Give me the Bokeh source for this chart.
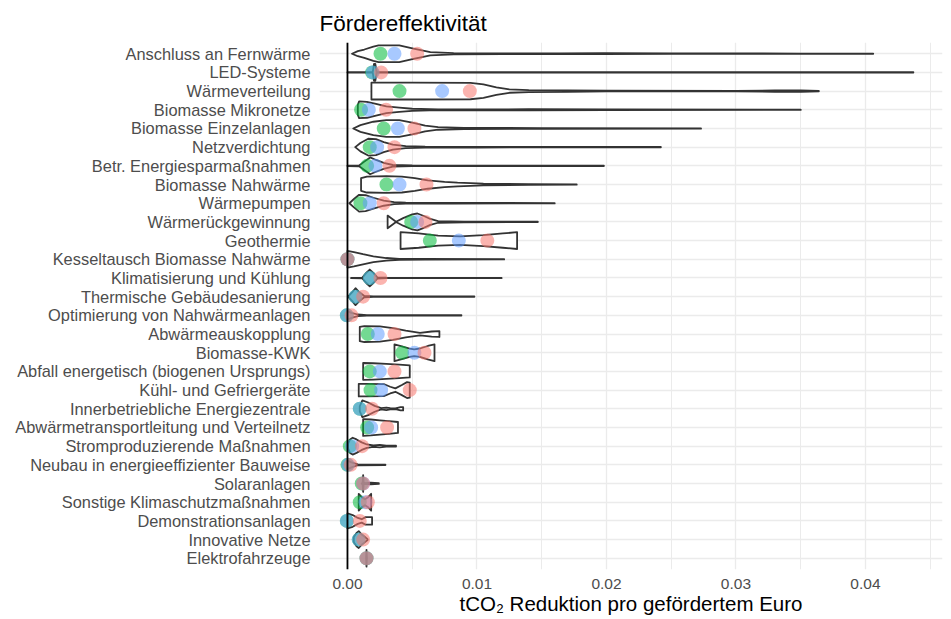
import numpy as np
from bokeh.plotting import figure
from bokeh.models import Range1d, FixedTicker, NumeralTickFormatter, Span
from bokeh.embed import file_html
from bokeh.resources import INLINE

# ---------------- data ----------------
categories = [
    "Anschluss an Fernwärme",
    "LED-Systeme",
    "Wärmeverteilung",
    "Biomasse Mikronetze",
    "Biomasse Einzelanlagen",
    "Netzverdichtung",
    "Betr. Energiesparmaßnahmen",
    "Biomasse Nahwärme",
    "Wärmepumpen",
    "Wärmerückgewinnung",
    "Geothermie",
    "Kesseltausch Biomasse Nahwärme",
    "Klimatisierung und Kühlung",
    "Thermische Gebäudesanierung",
    "Optimierung von Nahwärmeanlagen",
    "Abwärmeauskopplung",
    "Biomasse-KWK",
    "Abfall energetisch (biogenen Ursprungs)",
    "Kühl- und Gefriergeräte",
    "Innerbetriebliche Energiezentrale",
    "Abwärmetransportleitung und Verteilnetz",
    "Stromproduzierende Maßnahmen",
    "Neubau in energieeffizienter Bauweise",
    "Solaranlagen",
    "Sonstige Klimaschutzmaßnahmen",
    "Demonstrationsanlagen",
    "Innovative Netze",
    "Elektrofahrzeuge",
]

# point summaries (tCO2 per Euro, in units of 1e-3)
green_e3 = [2.55, 1.9, 4.02, 1.05, 2.8, 1.72, 1.52, 3.01, 1.0, 4.92, 6.36, 0.0, 1.72, 0.62,
            -0.05, 1.57, 4.22, 1.72, 1.78, 0.95, 1.52, 0.18, 0.0, 1.1, 0.95, -0.05, 0.87, 1.47]
blue_e3 = [3.63, 1.95, 7.31, 1.65, 3.89, 2.29, 2.16, 4.02, 1.72, 5.38, 8.6, 0.0, 1.72, 0.62,
           -0.05, 2.34, 5.17, 2.5, 2.6, 0.95, 1.83, 0.36, 0.05, 1.21, 1.39, -0.05, 0.87, 1.47]
red_e3 = [5.38, 2.6, 9.45, 2.98, 5.17, 3.63, 3.24, 6.1, 2.8, 6.02, 10.8, 0.0, 2.55, 1.21,
          0.31, 3.63, 5.95, 3.63, 4.81, 1.9, 3.06, 1.13, 0.25, 1.21, 1.57, 0.95, 1.21, 1.47]

# violin outlines: positions (1e-3) and relative density width (0..1)
violin_x_e3 = [
    [0.35, 0.8, 1.3, 2.0, 2.4, 4.0, 5.1, 6.4, 8.2, 12, 16.4, 19.8, 25, 30, 35, 40.6],
    [0.0, 1.95, 2.05, 2.15, 2.25, 43.7],
    [1.85, 2.2, 5.0, 9.5, 10.5, 11.5, 12.5, 14, 17, 20, 30, 33, 35, 36.4],
    [0.8, 0.9, 1.5, 2.2, 3.0, 4.0, 5.0, 7.0, 14, 20, 35],
    [0.45, 1.0, 2.0, 3.0, 4.0, 5.0, 6.0, 7.0, 9.0, 15, 27.3],
    [0.6, 1.0, 1.6, 2.2, 2.8, 3.5, 4.5, 6.0, 10, 24.2],
    [0.0, 0.9, 1.3, 1.75, 2.2, 2.8, 3.5, 5.0, 19.8],
    [1.05, 1.5, 3.0, 4.2, 5.2, 6.2, 7.5, 8.5, 10.5, 14, 17.7],
    [0.15, 0.5, 0.9, 1.4, 2.0, 2.8, 3.6, 4.5, 8.0, 16.0],
    [3.1, 3.75, 4.3, 5.0, 5.4, 5.9, 6.4, 7.0, 9.0, 14.7],
    [4.1, 5.5, 7.0, 8.7, 10.5, 12.0, 13.1],
    [0.0, 0.5, 1.2, 2.0, 3.0, 4.0, 6.0, 12.1],
    [0.28, 1.15, 1.45, 1.72, 2.0, 2.3, 3.0, 11.9],
    [0.1, 0.35, 0.62, 0.9, 1.3, 2.0, 9.8],
    [0.0, 0.3, 0.8, 1.5, 8.8],
    [0.95, 1.3, 2.5, 3.5, 4.5, 5.6, 6.5, 7.1],
    [3.63, 4.2, 4.8, 5.15, 5.6, 6.2, 6.72],
    [1.21, 2.0, 3.0, 4.0, 4.81],
    [0.87, 1.5, 2.8, 3.3, 3.7, 4.2, 4.6, 4.81],
    [0.95, 1.15, 1.6, 2.1, 2.6, 3.0, 3.3, 3.7, 4.1, 4.3],
    [1.21, 1.8, 2.5, 3.2, 3.9],
    [0.05, 0.2, 0.4, 0.7, 1.1, 1.5, 2.0, 2.5, 3.0, 3.75],
    [0.0, 0.3, 0.8, 2.93],
    [1.1, 1.17, 1.21, 1.25, 1.35, 1.8, 2.42],
    [0.87, 1.1, 1.35, 1.6, 1.83],
    [0.0, 0.4, 0.8, 1.1, 1.4, 1.9],
    [0.49, 0.7, 0.87, 1.1, 1.35, 1.55],
    [1.44, 1.47, 1.5],
]
violin_w = [
    [0.0, 0.3, 0.5, 0.85, 1.0, 1.0, 0.6, 0.2, 0.08, 0.05, 0.04, 0.06, 0.03, 0.03, 0.02, 0.01],
    [0.02, 0.03, 1.0, 1.0, 0.03, 0.02],
    [1.0, 1.0, 1.0, 0.97, 0.8, 0.45, 0.2, 0.12, 0.08, 0.04, 0.03, 0.08, 0.08, 0.02],
    [0.6, 1.0, 0.95, 0.7, 0.4, 0.25, 0.12, 0.05, 0.06, 0.03, 0.02],
    [0.0, 0.4, 0.8, 1.0, 1.0, 0.7, 0.35, 0.15, 0.08, 0.04, 0.02],
    [0.0, 0.5, 1.0, 0.95, 0.6, 0.3, 0.12, 0.06, 0.04, 0.02],
    [0.02, 0.05, 0.5, 1.0, 0.7, 0.35, 0.1, 0.04, 0.02],
    [0.75, 0.95, 1.0, 0.95, 0.75, 0.5, 0.32, 0.22, 0.1, 0.05, 0.02],
    [0.0, 0.5, 1.0, 0.95, 0.65, 0.3, 0.12, 0.06, 0.04, 0.02],
    [0.75, 0.02, 0.45, 0.9, 1.0, 0.7, 0.35, 0.1, 0.04, 0.02],
    [1.0, 0.85, 0.6, 0.5, 0.65, 0.85, 1.0],
    [1.0, 0.85, 0.6, 0.35, 0.15, 0.06, 0.04, 0.02],
    [0.02, 0.05, 0.6, 1.0, 0.6, 0.08, 0.03, 0.02],
    [0.1, 0.5, 1.0, 0.55, 0.08, 0.03, 0.02],
    [0.5, 0.3, 0.1, 0.03, 0.02],
    [0.85, 0.95, 0.9, 0.7, 0.4, 0.15, 0.3, 0.35],
    [1.0, 0.75, 0.5, 0.4, 0.5, 0.8, 1.0],
    [1.0, 0.97, 0.9, 0.8, 0.72],
    [0.75, 0.75, 0.72, 0.4, 0.2, 0.6, 0.95, 0.9],
    [0.3, 1.0, 0.75, 0.35, 0.08, 0.15, 0.08, 0.05, 0.2, 0.2],
    [1.0, 0.95, 0.85, 0.75, 0.65],
    [0.3, 0.8, 1.0, 0.8, 0.45, 0.2, 0.08, 0.15, 0.05, 0.05],
    [0.5, 0.3, 0.05, 0.03],
    [0.02, 0.1, 1.0, 0.1, 0.05, 0.1, 0.05],
    [1.0, 0.6, 0.35, 0.6, 1.0],
    [0.9, 0.7, 0.35, 0.2, 0.45, 0.45],
    [0.3, 0.8, 1.0, 0.6, 0.3, 0.05],
    [0.0, 1.0, 0.0],
]

x_ticks = [0.0, 0.01, 0.02, 0.03, 0.04]
x_minor = [0.005, 0.015, 0.025, 0.035, 0.045]

# ---------------- figure ----------------
FONT = "Liberation Sans"
n = len(categories)
ypos = [n - i for i in range(n)]

p = figure(width=943, height=619, output_backend="svg", toolbar_location=None,
           x_range=Range1d(-0.00216, 0.04595), y_range=Range1d(0.4, n + 0.6),
           min_border_left=319, min_border_right=1, min_border_top=42, min_border_bottom=50,
           title="Fördereffektivität")
p.outline_line_color = None
p.background_fill_color = "white"
p.border_fill_color = "white"

p.title.text_font = FONT
p.title.text_font_size = "22.5px"
p.title.text_font_style = "normal"
p.title.text_color = "black"
p.title.align = "left"
p.title.offset = 0
p.title.standoff = 13

# grids
p.xaxis.ticker = FixedTicker(ticks=x_ticks, minor_ticks=x_minor)
p.xaxis.formatter = NumeralTickFormatter(format="0.00")
p.yaxis.ticker = FixedTicker(ticks=ypos)
p.yaxis.major_label_overrides = {y: c for y, c in zip(ypos, categories)}
p.xgrid.grid_line_color = "#EBEBEB"
p.xgrid.grid_line_width = 1.3
p.xgrid.minor_grid_line_color = "#EBEBEB"
p.xgrid.minor_grid_line_width = 1.0
p.ygrid.grid_line_color = "#EBEBEB"
p.ygrid.grid_line_width = 1.3

for ax in (p.xaxis[0], p.yaxis[0]):
    ax.axis_line_color = None
    ax.major_tick_line_color = None
    ax.minor_tick_line_color = None
    ax.major_tick_out = 0
    ax.major_tick_in = 0
    ax.minor_tick_out = 0
    ax.minor_tick_in = 0
    ax.major_label_text_font = FONT
    ax.major_label_text_color = "#4D4D4D"

p.yaxis.major_label_text_font_size = "16.4px"
p.yaxis.major_label_standoff = 9
p.xaxis.major_label_text_font_size = "15.5px"
p.xaxis.major_label_standoff = 9
p.xaxis.axis_label = "tCO₂ Reduktion pro gefördertem Euro"
p.xaxis.axis_label_text_font = FONT
p.xaxis.axis_label_text_font_size = "20.5px"
p.xaxis.axis_label_text_font_style = "normal"
p.xaxis.axis_label_text_color = "black"
p.xaxis.axis_label_standoff = 0

# zero line
p.add_layout(Span(location=0, dimension="height", line_color="black", line_width=1.8))

# violins
xs, ys = [], []
for yc, vx, vw in zip(ypos, violin_x_e3, violin_w):
    vx = np.asarray(vx, dtype=float) * 1e-3
    hw = np.asarray(vw, dtype=float) * 0.45
    xs.append(np.concatenate([vx, vx[::-1]]))
    ys.append(np.concatenate([yc + hw, (yc - hw)[::-1]]))
p.patches(xs, ys, fill_color="white", fill_alpha=1.0, line_color="#333333", line_width=1.8,
          line_join="round")

# summary points (green, then blue, red on top)
for vals, col in ((green_e3, "#00BA38"), (blue_e3, "#619CFF"), (red_e3, "#F8766D")):
    p.scatter(x=np.asarray(vals) * 1e-3, y=ypos, size=14, fill_color=col, fill_alpha=0.55,
              line_color=None)

open("out.html", "w").write(file_html(p, INLINE))
